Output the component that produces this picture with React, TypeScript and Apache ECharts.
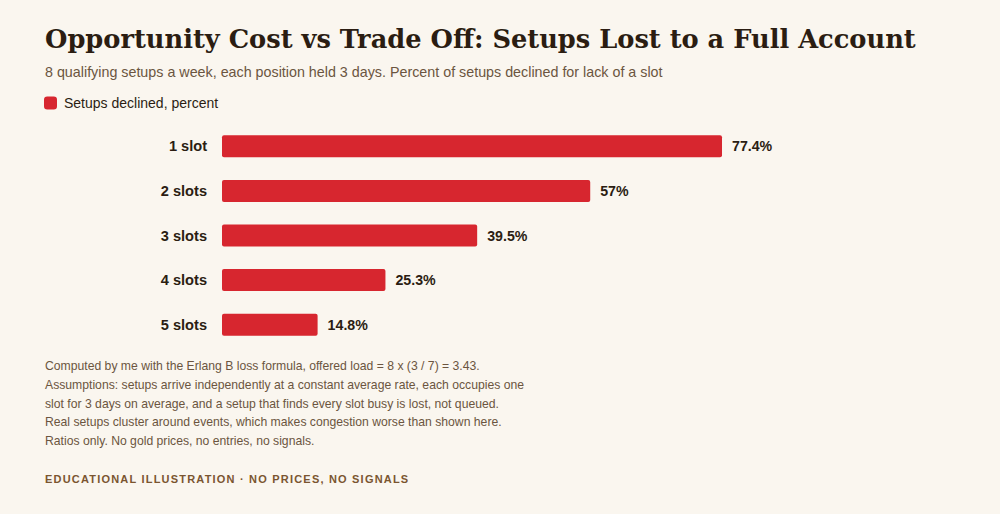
import React, { useEffect, useRef } from "react";
import * as echarts from "echarts";

const categories = ["1 slot", "2 slots", "3 slots", "4 slots", "5 slots"];
const declined = [77.4, 57, 39.5, 25.3, 14.8];
const seriesName = "Setups declined, percent";
const titleText = "Opportunity Cost vs Trade Off: Setups Lost to a Full Account";
const subtitleText =
  "8 qualifying setups a week, each position held 3 days. Percent of setups declined for lack of a slot";
const noteLines = [
  "Computed by me with the Erlang B loss formula, offered load = 8 x (3 / 7) = 3.43.",
  "Assumptions: setups arrive independently at a constant average rate, each occupies one",
  "slot for 3 days on average, and a setup that finds every slot busy is lost, not queued.",
  "Real setups cluster around events, which makes congestion worse than shown here.",
  "Ratios only. No gold prices, no entries, no signals.",
];
const footerText = "EDUCATIONAL ILLUSTRATION · NO PRICES, NO SIGNALS";

const BG = "#faf6ef";
const DARK = "#2b1d12";
const MUTED = "#6b5540";
const RED = "#d7262f";
const SANS = "'Liberation Sans', Arial, sans-serif";

export default function App() {
  const ref = useRef<HTMLDivElement>(null);
  useEffect(() => {
    if (!ref.current) return;
    const chart = echarts.init(ref.current, null, { renderer: "svg" });
    const graphics: any[] = [
      {
        type: "text",
        left: 45,
        top: 26,
        style: {
          text: titleText,
          font: "bold 25.7px 'DejaVu Serif', serif",
          fill: DARK,
        },
      },
      {
        type: "text",
        left: 45,
        top: 65,
        style: {
          text: subtitleText,
          font: `14.3px ${SANS}`,
          fill: MUTED,
        },
      },
      ...noteLines.map((t, i) => ({
        type: "text",
        left: 45,
        top: 360 + i * 18.8,
        style: { text: t, font: `12.2px ${SANS}`, fill: MUTED },
      })),
      {
        type: "text",
        id: "footer",
        left: 45,
        top: 473,
        style: { text: footerText, font: `bold 11px ${SANS}`, fill: "#7a5530" },
      },
    ];
    chart.setOption({
      animation: false,
      backgroundColor: BG,
      legend: {
        left: 44,
        top: 96,
        padding: 0,
        itemWidth: 13,
        itemHeight: 13,
        icon: "roundRect",
        data: [seriesName],
        textStyle: { fontSize: 14, fontFamily: SANS, color: DARK, padding: [0, 0, 0, 2] },
      },
      grid: { left: 222, right: 132, top: 124, bottom: 167, outerBoundsMode: "none" },
      xAxis: {
        type: "value",
        min: 0,
        max: 100,
        show: false,
        splitLine: { show: false },
      },
      yAxis: {
        type: "category",
        data: categories,
        inverse: true,
        axisLine: { show: false },
        axisTick: { show: false },
        axisLabel: {
          margin: 15,
          fontSize: 14.6,
          fontWeight: "bold",
          fontFamily: SANS,
          color: DARK,
        },
      },
      series: [
        {
          name: seriesName,
          type: "bar",
          data: declined,
          barWidth: 22,
          itemStyle: { color: RED, borderRadius: 2 },
          label: {
            show: true,
            position: "right",
            distance: 10,
            formatter: (p: any) => `${p.value}%`,
            fontSize: 14.2,
            fontWeight: "bold",
            fontFamily: SANS,
            color: DARK,
          },
        },
      ],
      graphic: graphics,
    });
    // letter spacing for the footer line
    const svgTexts = ref.current.querySelectorAll("text");
    svgTexts.forEach((el) => {
      if (el.textContent === footerText) {
        (el as SVGTextElement).style.letterSpacing = "1.2px";
      }
    });
    return () => chart.dispose();
  }, []);
  return (
    <div
      ref={ref}
      style={{ position: "fixed", left: 0, top: 0, width: 1000, height: 514, background: BG }}
    />
  );
}
